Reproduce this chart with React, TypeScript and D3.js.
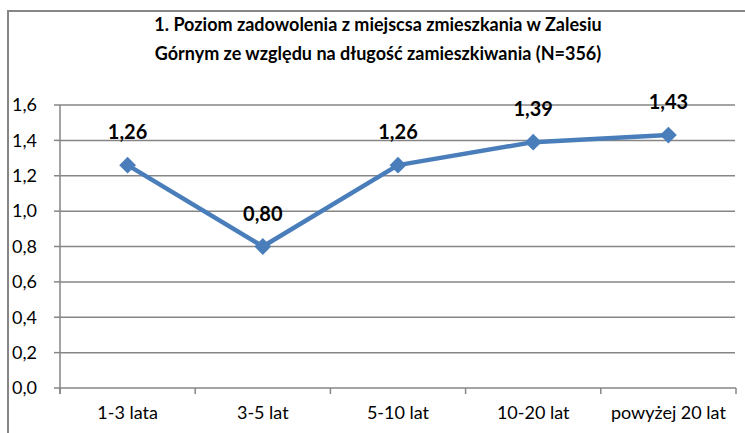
import React, { useEffect, useRef } from 'react';
import * as d3 from 'd3';

const categories = ['1-3 lata', '3-5 lat', '5-10 lat', '10-20 lat', 'powyżej 20 lat'];
const values = [1.26, 0.8, 1.26, 1.39, 1.43];
const yTicks = [0, 0.2, 0.4, 0.6, 0.8, 1.0, 1.2, 1.4, 1.6];
const titleLines = [
  '1. Poziom zadowolenia z miejscsa zmieszkania w Zalesiu',
  'Górnym ze względu na długość zamieszkiwania (N=356)',
];

const fmt = (v: number, d: number) => v.toFixed(d).replace('.', ',');

export default function App() {
  const svgRef = useRef<SVGSVGElement>(null);
  const width = 745;
  const height = 433;

  useEffect(() => {
    const svg = d3.select(svgRef.current);
    svg.selectAll('*').remove();

    const font = 'Lato, sans-serif';
    const grey = '#868686';
    const blue = '#4a7ebb';

    // Chart frame (cut off at right and bottom)
    svg.append('rect')
      .attr('x', 8).attr('y', 11)
      .attr('width', 800).attr('height', 500)
      .attr('fill', '#fff')
      .attr('stroke', grey).attr('stroke-width', 2);

    const left = 60, right = 736, top = 105, bottom = 388;

    const x = d3.scaleBand().domain(categories).range([left, right]);
    const y = d3.scaleLinear().domain([0, 1.6]).range([bottom, top]);

    // Title
    svg.append('g').selectAll('text')
      .data(titleLines)
      .join('text')
      .attr('x', 378).attr('y', (_, i) => 31 + i * 29)
      .attr('text-anchor', 'middle')
      .attr('font-family', font)
      .attr('font-weight', 'bold')
      .attr('font-size', 18)
      .attr('fill', '#000')
      .text(d => d);

    // Gridlines
    svg.append('g').selectAll('line')
      .data(yTicks.slice(1))
      .join('line')
      .attr('x1', left).attr('x2', right - 1)
      .attr('y1', d => y(d)).attr('y2', d => y(d))
      .attr('stroke', grey).attr('stroke-width', 1.5);

    // Y axis
    svg.append('line')
      .attr('x1', left).attr('x2', left)
      .attr('y1', top).attr('y2', bottom + 6)
      .attr('stroke', grey).attr('stroke-width', 1.5);
    svg.append('g').selectAll('line')
      .data(yTicks)
      .join('line')
      .attr('x1', left - 6).attr('x2', left)
      .attr('y1', d => y(d)).attr('y2', d => y(d))
      .attr('stroke', grey).attr('stroke-width', 1.5);
    svg.append('g').selectAll('text')
      .data(yTicks)
      .join('text')
      .attr('x', 37).attr('y', d => y(d))
      .attr('dy', '0.35em')
      .attr('text-anchor', 'end')
      .attr('font-family', font)
      .attr('font-size', 18)
      .attr('fill', '#000')
      .text(d => fmt(d, 1));

    // X axis
    svg.append('line')
      .attr('x1', left).attr('x2', right)
      .attr('y1', bottom).attr('y2', bottom)
      .attr('stroke', grey).attr('stroke-width', 1.5);
    const bounds = categories.map(c => x(c)!).concat([right]);
    svg.append('g').selectAll('line')
      .data(bounds)
      .join('line')
      .attr('x1', d => d).attr('x2', d => d)
      .attr('y1', bottom).attr('y2', bottom + 6)
      .attr('stroke', grey).attr('stroke-width', 1.5);
    svg.append('g').selectAll('text')
      .data(categories)
      .join('text')
      .attr('x', d => x(d)! + x.bandwidth() / 2)
      .attr('y', 413)
      .attr('dy', '0.35em')
      .attr('text-anchor', 'middle')
      .attr('font-family', font)
      .attr('font-size', 18)
      .attr('fill', '#000')
      .text(d => d);

    const pts = categories.map((c, i) => ({ c, v: values[i] }));
    const cx = (d: { c: string }) => x(d.c)! + x.bandwidth() / 2;

    // Line
    const line = d3.line<{ c: string; v: number }>()
      .x(d => cx(d))
      .y(d => y(d.v));
    svg.append('path')
      .datum(pts)
      .attr('fill', 'none')
      .attr('stroke', blue)
      .attr('stroke-width', 4.5)
      .attr('stroke-linejoin', 'round')
      .attr('d', line);

    // Markers
    const diamond = d3.symbol().type(d3.symbolDiamond2).size(180);
    svg.append('g').selectAll('path')
      .data(pts)
      .join('path')
      .attr('transform', d => `translate(${cx(d)},${y(d.v)})`)
      .attr('d', diamond)
      .attr('fill', blue);

    // Data labels
    svg.append('g').selectAll('text')
      .data(pts)
      .join('text')
      .attr('x', d => cx(d))
      .attr('y', d => y(d.v) - 33)
      .attr('dy', '0.35em')
      .attr('text-anchor', 'middle')
      .attr('font-family', font)
      .attr('font-weight', 'bold')
      .attr('font-size', 20)
      .attr('fill', '#000')
      .text(d => fmt(d.v, 2));
  }, []);

  return (
    <svg
      ref={svgRef}
      width={width}
      height={height}
      style={{ position: 'absolute', left: 0, top: 0, background: '#fff' }}
    />
  );
}
